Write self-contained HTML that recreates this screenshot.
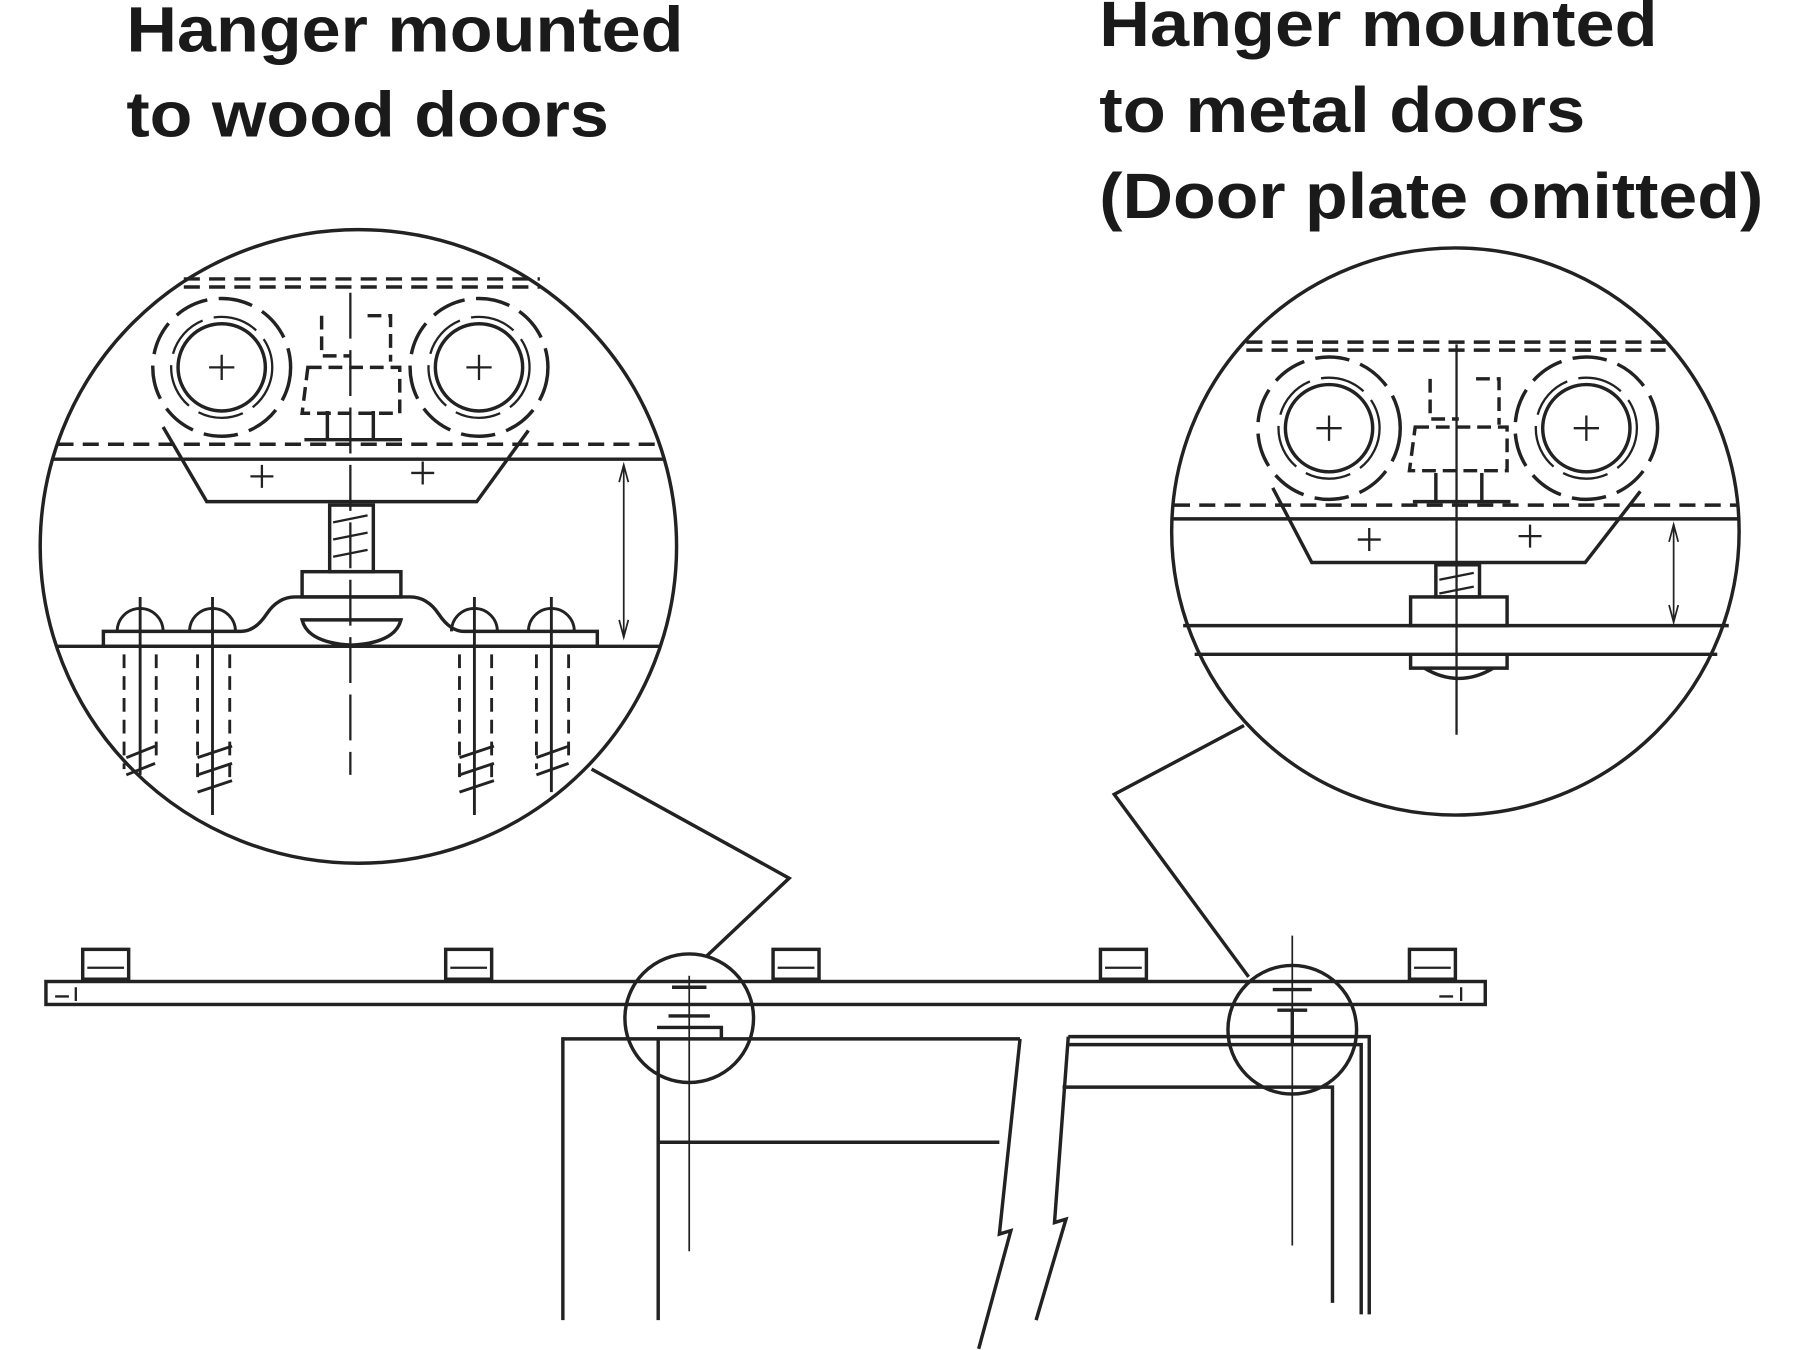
<!DOCTYPE html>
<html><head><meta charset="utf-8"><style>
html,body{margin:0;padding:0;background:#fff}
svg{display:block}
text{font-family:"Liberation Sans",sans-serif;font-weight:bold;fill:#1a1a1a}
</style></head><body>
<svg width="1800" height="1350" viewBox="0 0 1567 1176" preserveAspectRatio="none" xmlns="http://www.w3.org/2000/svg">
<text x="110" y="45" font-size="56" textLength="485" lengthAdjust="spacingAndGlyphs">Hanger mounted</text>
<text x="110" y="119" font-size="56" textLength="420" lengthAdjust="spacingAndGlyphs">to wood doors</text>
<text x="957" y="40" font-size="56" textLength="486" lengthAdjust="spacingAndGlyphs">Hanger mounted</text>
<text x="957" y="115" font-size="56" textLength="423" lengthAdjust="spacingAndGlyphs">to metal doors</text>
<text x="957" y="190" font-size="56" textLength="578" lengthAdjust="spacingAndGlyphs">(Door plate omitted)</text>

<g fill="none" stroke="#222" stroke-width="3">
<!-- LEFT BIG CIRCLE -->
<ellipse cx="312" cy="476" rx="277" ry="276"/>
<line x1="160" y1="243" x2="470" y2="243" stroke-dasharray="14,8"/>
<line x1="160" y1="250" x2="470" y2="250" stroke-dasharray="14,8"/>
<line x1="50" y1="387" x2="572" y2="387" stroke-dasharray="14,8"/>
<line x1="46" y1="400" x2="578" y2="400"/>
<line x1="50" y1="563" x2="574" y2="563"/>
<circle cx="193" cy="320" r="60" stroke-dasharray="30,10"/>
<circle cx="193" cy="320" r="38"/>
<circle cx="193" cy="320" r="44" stroke-dasharray="40,10" stroke-width="2"/>
<circle cx="417" cy="320" r="60" stroke-dasharray="30,10"/>
<circle cx="417" cy="320" r="38"/>
<circle cx="417" cy="320" r="44" stroke-dasharray="40,10" stroke-width="2"/>
<path d="M182 320h22M193 309v22M406 320h22M417 309v22" stroke-width="2"/>
<path d="M142 372 L180 437 L415 437 L460 375"/>
<path d="M218 415h20M228 405v20M358 412h20M368 402v20" stroke-width="2"/>
<path d="M280 275v35h25M320 275h20v40M268 320h80v40h-85z" stroke-dasharray="12,6"/>
<path d="M285 358v25M325 358v25M265 383h85"/>
<path d="M305 255v420" stroke-dasharray="40,10" stroke-width="2"/>
<rect x="287" y="440" width="38" height="58"/>
<path d="M290 455l30-6M290 470l30-6M290 485l30-6" stroke-width="2"/>
<rect x="263" y="498" width="86" height="22"/>
<path d="M90 563v-13h120q12 0 22-15q10-15 25-15h100q15 0 25 15q10 15 22 15h116v13z"/>
<path d="M263 540h86q-5 20-43 22q-38-2-43-22z"/>
<g stroke-width="2.5">
<path d="M102 550a20 20 0 0 1 40 0M165 550a20 20 0 0 1 40 0M393 550a20 20 0 0 1 40 0M460 550a20 20 0 0 1 40 0"/>
<path d="M122 520v155M185 520v190M413 520v190M480 520v170"/>
<path d="M108 570v100M136 570v90M172 570v110M200 570v110M400 570v110M428 570v110M467 570v100M495 570v90" stroke-dasharray="12,7"/>
<path d="M110 660l25-10M110 675l25-10M172 660l30-10M172 675l30-10M172 690l30-10M400 660l30-10M400 675l30-10M400 690l30-10M467 660l28-10M467 675l28-10"/>
</g>
<path d="M543 405v150" stroke-width="1.5"/>
<path d="M539 420l4-15 4 15M539 540l4 15 4-15" stroke-width="1.5"/>

<!-- RIGHT BIG CIRCLE -->
<ellipse cx="1267" cy="463" rx="247" ry="247"/>
<line x1="1085" y1="298" x2="1450" y2="298" stroke-dasharray="14,8"/>
<line x1="1085" y1="305" x2="1450" y2="305" stroke-dasharray="14,8"/>
<line x1="1022" y1="440" x2="1512" y2="440" stroke-dasharray="14,8"/>
<line x1="1020" y1="452" x2="1514" y2="452"/>
<line x1="1030" y1="545" x2="1505" y2="545"/>
<line x1="1040" y1="570" x2="1495" y2="570"/>
<circle cx="1157" cy="373" r="62" stroke-dasharray="30,10"/>
<circle cx="1157" cy="373" r="38"/>
<circle cx="1157" cy="373" r="44" stroke-dasharray="40,10" stroke-width="2"/>
<circle cx="1381" cy="373" r="62" stroke-dasharray="30,10"/>
<circle cx="1381" cy="373" r="38"/>
<circle cx="1381" cy="373" r="44" stroke-dasharray="40,10" stroke-width="2"/>
<path d="M1146 373h22M1157 362v22M1370 373h22M1381 362v22" stroke-width="2"/>
<path d="M1108 425 L1142 490 L1380 490 L1428 428"/>
<path d="M1182 470h20M1192 460v20M1322 467h20M1332 457v20" stroke-width="2"/>
<path d="M1245 330v35h25M1285 330h20v40M1232 372h80v38h-85z" stroke-dasharray="12,6"/>
<path d="M1250 412v25M1290 412v25M1230 437h85"/>
<path d="M1268 300v340" stroke-width="2"/>
<rect x="1250" y="492" width="38" height="28"/>
<path d="M1253 505l30-6M1253 517l30-6" stroke-width="2"/>
<rect x="1228" y="520" width="84" height="25"/>
<path d="M1228 570v12h84v-12M1240 582q30 18 60 0"/>
<path d="M1457 457v85" stroke-width="1.5"/>
<path d="M1453 472l4-15 4 15M1453 527l4 15 4-15" stroke-width="1.5"/>

<!-- leader lines -->
<path d="M515 670 L687 765 L615 833"/>
<path d="M1083 632 L970 692 L1087 851"/>

<!-- rail -->
<rect x="40" y="855" width="1253" height="20"/>
<rect x="72" y="827" width="40" height="26"/>
<rect x="388" y="827" width="40" height="26"/>
<rect x="673" y="827" width="40" height="26"/>
<rect x="958" y="827" width="40" height="26"/>
<rect x="1227" y="827" width="40" height="26"/>
<path d="M76 843h32M392 843h32M677 843h32M962 843h32M1231 843h32" stroke-width="2"/>
<path d="M48 868h12M66 860v12M1265 868h-12M1272 860v12" stroke-width="2"/>

<!-- small circles -->
<circle cx="600" cy="887" r="56"/>
<circle cx="1125" cy="897" r="56"/>
<path d="M585 860h30M582 885h36M572 895h56v10"/>
<path d="M1108 862h34M1112 880h26M1125 880v30"/>

<!-- doors -->
<path d="M490 1150V905H888"/>
<path d="M573 1150V905M573 995H870"/>
<path d="M888 905 L870 1075 L880 1072 L852 1175"/>
<path d="M930 903H1192V1145M930 910H1185V1145"/>
<path d="M930 903 L918 1065 L928 1062 L902 1150"/>
<path d="M925 947H1160V1135"/>
<path d="M600 850V1090M1125 815V1085" stroke-width="1.5"/>
</g>
</svg>
</body></html>
